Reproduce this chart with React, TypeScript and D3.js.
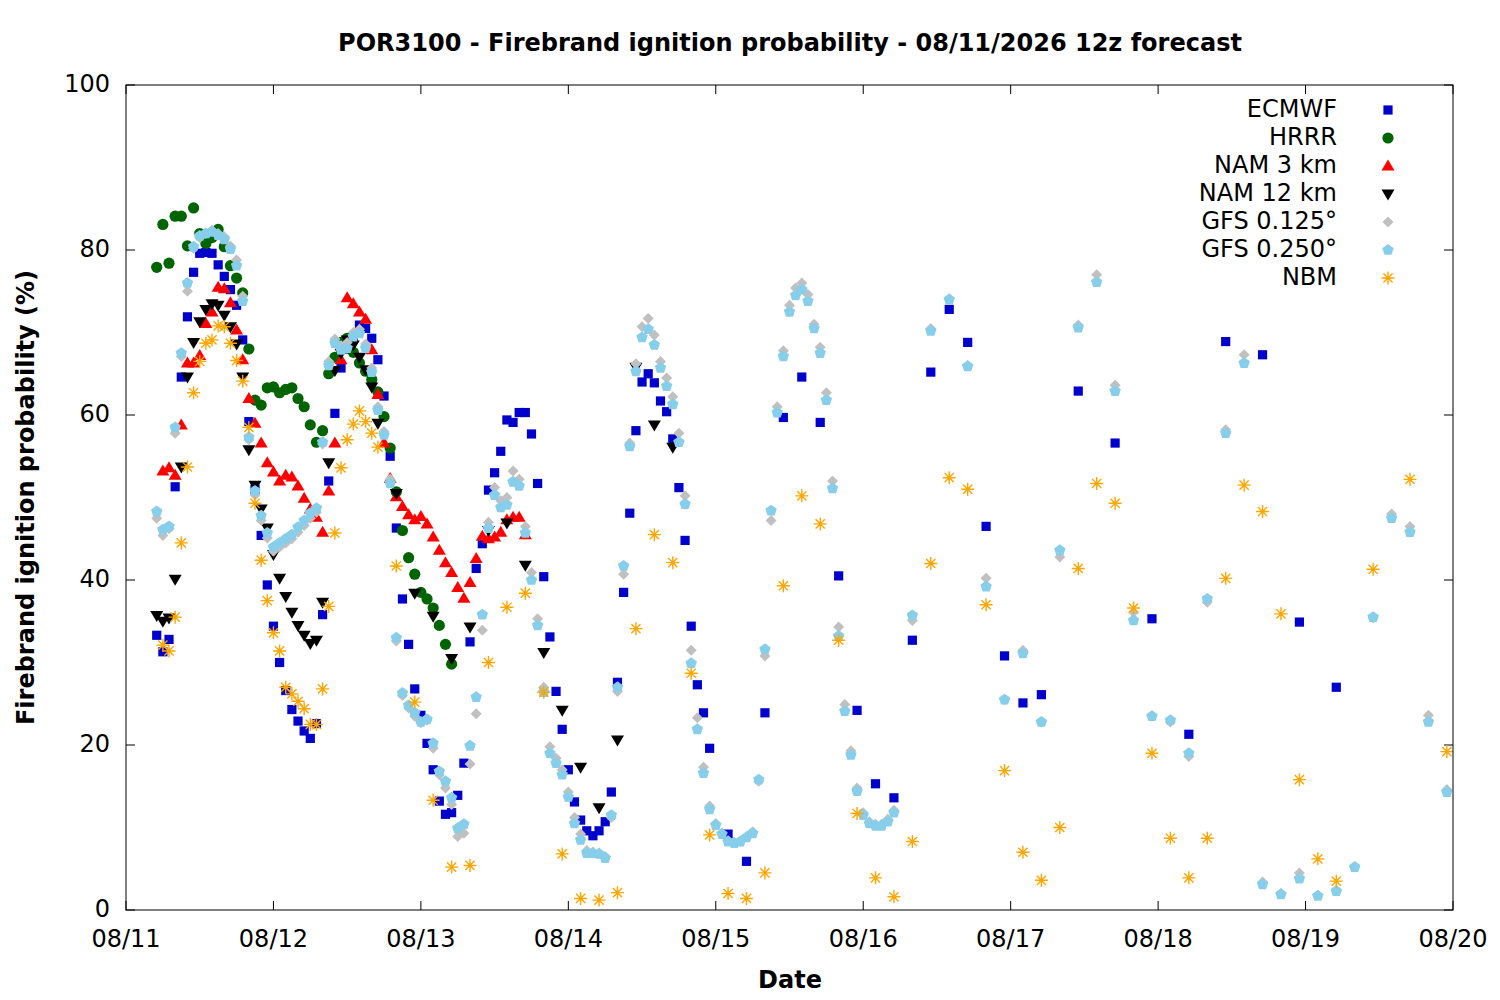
import * as d3 from 'd3';
import React from 'react';

// hours are counted from 08/11 00 local time
const dayLabels = ['08/11', '08/12', '08/13', '08/14', '08/15', '08/16', '08/17', '08/18', '08/19', '08/20'];
const yTicks = [0, 20, 40, 60, 80, 100];

const hourly = (a: number, b: number) => d3.range(a, b + 1);
const every = (a: number, b: number, s: number) => d3.range(a, b + 1, s);

const ecmwfHours = [...hourly(5, 95), ...every(98, 149, 3), ...every(155, 197, 6)];
const ecmwfValues = [
  33.3, 31.3, 32.8, 51.3, 64.6, 71.9, 77.3, 79.6, 79.7, 79.6,
  78.2, 76.8, 75.2, 73.3, 69.1, 59.2, 51, 45.4, 39.4, 34.4,
  30, 26.6, 24.3, 22.9, 21.7, 20.8, 22.6, 35.8, 52, 60.2,
  65.7, 68, 69.5, 70.9, 70.5, 69.3, 66.7, 62.3, 55, 46.3,
  37.7, 32.2, 26.8, 23.6, 20.2, 17, 13.2, 11.6, 11.8, 13.9,
  17.8, 32.5, 41.4, 44.4, 50.9, 53, 55.6, 59.4, 59.1, 60.3,
  60.3, 57.7, 51.7, 40.4, 33.1, 26.5, 21.9, 17, 13.1, 10.9,
  9.6, 9, 9.6, 10.7, 14.3, 27.6, 38.5, 48.1, 58.1, 64,
  65, 63.9, 61.7, 60.4, 57.1, 51.2, 44.8, 34.4, 27.3, 23.9,
  19.6,
  9.2, 5.9, 23.9, 59.7, 64.6, 59.1, 40.5, 24.2, 15.3, 13.6,
  32.7, 65.2, 72.8, 68.8, 46.5, 30.8, 25.1, 26.1,
  62.9, 56.6, 35.3, 21.3, 68.9, 67.3, 34.9, 27,
];

const hrrrHours = hourly(5, 53);
const hrrrValues = [
  77.9, 83.1, 78.4, 84.1, 84.1, 80.5, 85.1, 82, 80.8, 81.5,
  82.5, 80.4, 78.1, 76.6, 74.8, 68, 61.8, 61.2, 63.3, 63.4,
  62.7, 63.1, 63.3, 62, 61, 58.8, 56.7, 58.1, 65, 67,
  68.8, 69.3, 67.6, 66.3, 65.3, 64.3, 62.8, 59.8, 56, 50.7,
  46, 42.7, 40.7, 38.5, 37.7, 36.6, 34.5, 32.2, 29.8,
];

const nam3Hours = hourly(6, 65);
const nam3Values = [
  53.2, 53.6, 52.7, 58.8, 66.3, 66.3, 67.2, 71.1, 72.5, 75.5,
  75.3, 73.6, 70.3, 66.7, 62, 59, 56.6, 54.2, 53.1, 52,
  52.7, 52.5, 51.4, 49.9, 48.6, 47.6, 45.8, 50.8, 56.6, 66.7,
  74.2, 73.5, 72.5, 71.6, 67.9, 62.5, 56.6, 52.3, 50.1, 48.9,
  47.9, 47.3, 47.7, 46.8, 45.2, 43.6, 42.1, 40.9, 39.1, 37.8,
  39.7, 42.6, 45.3, 45, 45.2, 45.8, 47.3, 47.6, 47.6, 45.5,
];

const nam12Hours = [...hourly(5, 41), ...every(44, 89, 3)];
const nam12Values = [
  35.7, 35.0, 35.4, 40.1, 53.7, 64.6, 68.8, 71.3, 72.8, 73.5,
  73.3, 72.1, 70.7, 68.6, 64.6, 55.8, 51.5, 48.6, 46.3, 43.1,
  40.2, 38, 36.1, 34.5, 33.3, 32.3, 32.7, 37.3, 54.2, 65.4,
  67.5, 69.1, 68.5, 67, 65.5, 63.4, 59,
  50.5, 38.4, 35.6, 30.5, 34.3, 46, 46.9, 41.8, 31.2, 24.2,
  17.3, 12.4, 20.6, 65.8, 58.8, 56.1,
];

const gfsHours = [...hourly(5, 125), ...every(128, 215, 3)];
const gfs125Values = [
  47.5, 45.4, 46.2, 57.8, 67.1, 75, 80.2, 81.5, 82, 82.4,
  82, 81.6, 80.5, 78.8, 74.4, 57, 50.3, 47.2, 45.1, 43.5,
  44, 44.5, 45, 45.8, 46.6, 47.5, 48.2, 56.5, 66.5, 69.2,
  68.4, 68.8, 70, 70.4, 68.6, 65.7, 61, 58, 52.2, 32.6,
  26, 24.5, 23.5, 22.7, 23, 19.6, 16.4, 14.8, 12.8, 8.9,
  9.3, 17.7, 23.8, 33.9, 47, 51.2, 49.6, 50, 53.2, 52.2,
  46.5, 40.9, 35.3, 27, 19.8, 18.4, 17, 14.3, 11.2, 9.2,
  7.2, 7, 6.9, 6.5, 11.2, 26.5, 40.7, 56.6, 66.2, 70.7,
  71.7, 69.7, 66.5, 64.5, 62.2, 57.8, 50.2, 31.5, 23.3, 17.3,
  12.6, 10.5, 9.3, 8.4, 8.2, 8.3, 8.9, 9.5, 15.6, 30.8,
  47.2, 61, 67.8, 73.3, 75.4, 76, 74.6, 71, 68.2, 62.7,
  52, 34.3, 24.9, 19.3, 14.8, 11.8, 10.7, 10.4, 10.4, 11,
  12.1,
  35.1, 70.5, 74.1, 66, 40.2, 25.5, 31.5, 22.8, 42.8, 70.9,
  77, 63.6, 36.1, 23.5, 22.8, 18.6, 37.3, 58.2, 67.3, 3.4,
  2, 4.5, 1.8, 2.3, 5.2, 35.4, 48, 46.5, 23.6, 14.6,
];
const gfs250Values = [
  48.3, 46.1, 46.5, 58.5, 67.5, 76, 80.4, 81.7, 82, 82.2,
  81.8, 81.3, 80.1, 78.1, 73.8, 57.3, 50.8, 47.8, 45.7, 44,
  44.5, 45, 45.5, 46.4, 47.2, 48.1, 48.7, 56.7, 66, 68.7,
  67.9, 68.1, 69.5, 69.9, 68.1, 65.2, 60.6, 57.6, 51.7, 33,
  26.3, 24.8, 23.9, 22.8, 23.1, 20.2, 16.8, 15.6, 13.6, 9.9,
  10.4, 19.9, 25.8, 35.8, 46.3, 50.3, 48.8, 49.1, 51.9, 51.4,
  45.7, 40, 34.5, 26.4, 19, 17.8, 16.4, 13.7, 10.5, 8.5,
  6.9, 6.9, 6.8, 6.3, 11.5, 27, 41.7, 56.2, 65.3, 69.4,
  70.4, 68.5, 65.7, 63.5, 61.3, 56.7, 49.2, 29.9, 21.9, 16.6,
  12.2, 10.3, 9.2, 8.3, 8.1, 8.3, 8.8, 9.3, 15.8, 31.6,
  48.4, 60.3, 67.1, 72.5, 74.5, 75.2, 73.8, 70.5, 67.5, 61.8,
  51.1, 33.2, 24.1, 18.8, 14.4, 11.5, 10.5, 10.2, 10.2, 10.7,
  11.8,
  35.7, 70.2, 74, 65.9, 39.2, 25.5, 31.1, 22.8, 43.6, 70.6,
  76.1, 62.9, 35.1, 23.5, 23, 19, 37.7, 57.8, 66.3, 3.1,
  1.9, 3.8, 1.7, 2.3, 5.2, 35.5, 47.5, 45.8, 22.8, 14.3,
];

const nbmHours = [...hourly(6, 41), ...every(44, 197, 3), ...every(203, 215, 6)];
const nbmValues = [
  32.1, 31.4, 35.5, 44.5, 53.7, 62.7, 66.5, 68.7, 69.1, 70.8,
  70.7, 68.7, 66.6, 64.1, 58.5, 49.3, 42.4, 37.5, 33.6, 31.4,
  27, 26.2, 25.3, 24.4, 22.5, 22.5, 26.8, 36.8, 45.7, 53.6,
  57, 58.9, 60.5, 59.2, 57.8, 56.1,
  41.7, 25.2, 13.3, 5.2, 5.4, 30, 36.7, 38.4, 26.4, 6.8,
  1.4, 1.2, 2.1, 34.1, 45.5, 42.1, 28.7, 9.1, 2, 1.4,
  4.5, 39.3, 50.2, 46.8, 32.7, 11.7, 3.9, 1.6, 8.3, 42,
  52.4, 51, 37, 16.9, 7, 3.6, 10, 41.4, 51.7, 49.3,
  36.6, 19, 8.7, 3.9, 8.7, 40.2, 51.5, 48.3, 35.9, 15.8,
  6.2, 3.5,
  41.3, 52.2, 19.2,
];

type Shape = 'square' | 'circle' | 'up' | 'down' | 'diamond' | 'pentagon' | 'star';

const shapePath = (shape: Shape): string => {
  switch (shape) {
    case 'square':
      return 'M-4.6,-4.6H4.6V4.6H-4.6Z';
    case 'circle':
      return 'M5.6,0A5.6,5.6 0 1,1 -5.6,0A5.6,5.6 0 1,1 5.6,0Z';
    case 'up':
      return 'M0,-6.5L6.5,4.5L-6.5,4.5Z';
    case 'down':
      return 'M0,6.5L6.5,-4.5L-6.5,-4.5Z';
    case 'diamond':
      return 'M0,-5.5L5.5,0L0,5.5L-5.5,0Z';
    case 'pentagon': {
      const pts = d3.range(5).map((i) => {
        const a = -Math.PI / 2 + (i * 2 * Math.PI) / 5;
        return [6 * Math.cos(a), 6 * Math.sin(a)];
      });
      return 'M' + pts.map((p) => p.join(',')).join('L') + 'Z';
    }
    case 'star':
      return 'M-6.5,0H6.5M0,-6.5V6.5M-4.6,-4.6L4.6,4.6M-4.6,4.6L4.6,-4.6';
  }
};

const series: { name: string; hours: number[]; values: number[]; color: string; shape: Shape }[] = [
  { name: 'ECMWF', hours: ecmwfHours, values: ecmwfValues, color: '#0000cc', shape: 'square' },
  { name: 'HRRR', hours: hrrrHours, values: hrrrValues, color: '#006400', shape: 'circle' },
  { name: 'NAM 3 km', hours: nam3Hours, values: nam3Values, color: '#ff0000', shape: 'up' },
  { name: 'NAM 12 km', hours: nam12Hours, values: nam12Values, color: '#000000', shape: 'down' },
  { name: 'GFS 0.125°', hours: gfsHours, values: gfs125Values, color: '#c0c0c0', shape: 'diamond' },
  { name: 'GFS 0.250°', hours: gfsHours, values: gfs250Values, color: '#87ceeb', shape: 'pentagon' },
  { name: 'NBM', hours: nbmHours, values: nbmValues, color: '#ffa500', shape: 'star' },
];

const Marker = ({ x, y, shape, color }: { x: number; y: number; shape: Shape; color: string }) =>
  shape === 'star' ? (
    <path d={shapePath(shape)} transform={`translate(${x},${y})`} fill="none" stroke={color} strokeWidth={1.4} />
  ) : (
    <path d={shapePath(shape)} transform={`translate(${x},${y})`} fill={color} />
  );

const App = () => {
  const width = 1500;
  const height = 1000;
  const left = 126;
  const right = 1453;
  const top = 85;
  const bottom = 910;

  const x = d3.scaleLinear().domain([0, 24 * (dayLabels.length - 1)]).range([left, right]);
  const y = d3.scaleLinear().domain([0, 100]).range([bottom, top]);
  const font = "'DejaVu Sans', sans-serif";
  const tickLen = 9;

  return (
    <svg width={width} height={height} style={{ position: 'absolute', left: 0, top: 0, background: '#fff' }} fontFamily={font}>
      <rect width={width} height={height} fill="#fff" />
      <text x={790} y={44} textAnchor="middle" dominantBaseline="middle" fontSize={24} fontWeight="bold">
        POR3100 - Firebrand ignition probability - 08/11/2026 12z forecast
      </text>

      {yTicks.map((t) => (
        <g key={'y' + t}>
          <line x1={left} x2={left + tickLen} y1={y(t)} y2={y(t)} stroke="#000" />
          <line x1={right} x2={right - tickLen} y1={y(t)} y2={y(t)} stroke="#000" />
          <text x={left - 16} y={y(t)} textAnchor="end" dominantBaseline="middle" fontSize={24}>
            {t}
          </text>
        </g>
      ))}
      {dayLabels.map((d, i) => (
        <g key={d}>
          <line x1={x(i * 24)} x2={x(i * 24)} y1={bottom} y2={bottom - tickLen} stroke="#000" />
          <line x1={x(i * 24)} x2={x(i * 24)} y1={top} y2={top + tickLen} stroke="#000" />
          <text x={x(i * 24)} y={940} textAnchor="middle" dominantBaseline="middle" fontSize={24}>
            {d}
          </text>
        </g>
      ))}

      <text x={790} y={981} textAnchor="middle" dominantBaseline="middle" fontSize={24} fontWeight="bold">
        Date
      </text>
      <text
        transform={`translate(27,${(top + bottom) / 2}) rotate(-90)`}
        textAnchor="middle"
        dominantBaseline="middle"
        fontSize={24}
        fontWeight="bold"
      >
        Firebrand ignition probability (%)
      </text>

      {series.map((s) => (
        <g key={s.name}>
          {s.values.map((v, i) => (
            <Marker key={i} x={x(s.hours[i])} y={y(v)} shape={s.shape} color={s.color} />
          ))}
        </g>
      ))}

      {series.map((s, i) => (
        <g key={'leg' + s.name}>
          <text x={1337} y={110 + i * 28} textAnchor="end" dominantBaseline="middle" fontSize={24}>
            {s.name}
          </text>
          <Marker x={1388} y={110 + i * 28} shape={s.shape} color={s.color} />
        </g>
      ))}

      <rect x={left} y={top} width={right - left} height={bottom - top} fill="none" stroke="#000" strokeWidth={1} />
    </svg>
  );
};

export default App;
